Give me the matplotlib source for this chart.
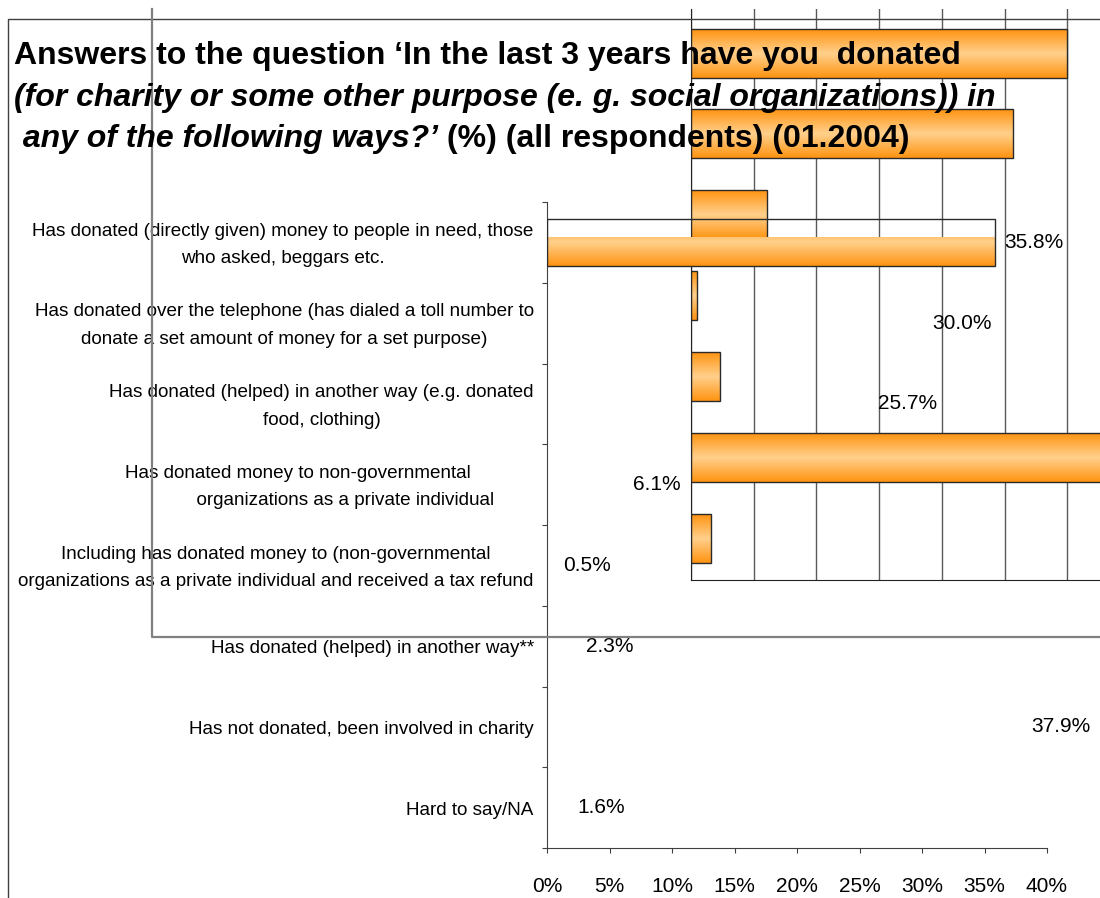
import numpy as np
import matplotlib.pyplot as plt
from matplotlib.colors import LinearSegmentedColormap
from matplotlib.lines import Line2D
from matplotlib.text import Annotation

plt.rcParams["font.family"] = ["Liberation Sans", "DejaVu Sans"]

W, H = 1100, 898

categories = [
    "Has donated (directly given) money to people in need, those\nwho asked, beggars etc.",
    "Has donated over the telephone (has dialed a toll number to\ndonate a set amount of money for a set purpose)",
    "Has donated (helped) in another way (e.g. donated\nfood, clothing)",
    "Has donated money to non-governmental            \n      organizations as a private individual",
    "Including has donated money to (non-governmental\norganizations as a private individual and received a tax refund",
    "Has donated (helped) in another way**",
    "Has not donated, been involved in charity",
    "Hard to say/NA",
]
shares = [35.8, 30.0, 25.7, 6.1, 0.5, 2.3, 37.9, 1.6]
x_ticks = [0, 5, 10, 15, 20, 25, 30, 35, 40]
x_ticklabels = [f"{t}%" for t in x_ticks]

title_1 = "Answers to the question \u2018In the last 3 years have you  donated"
title_2 = "(for charity or some other purpose (e. g. social organizations)) in"
title_3a = " any of the following ways?\u2019"
title_3b = " (%) (all respondents) (01.2004)"

bar_cmap = LinearSegmentedColormap.from_list("cyl", ["#ff9412", "#ffd08c", "#ff9412"])


def px_rect(left, top, right, bottom):
    # pixel box (origin top-left) -> figure fraction rect
    return [left / W, 1 - bottom / H, (right - left) / W, (bottom - top) / H]


def shaded_bar(ax, y, width, height, lo=0.0, hi=1.0):
    # outline + cylinder shading; lo/hi pick the painted slice (0 = top edge)
    rect = ax.barh(y, width, height=height, facecolor="none",
                   edgecolor="#2a2a2a", lw=1, zorder=3)[0]
    top = y - height / 2
    shade = np.linspace(lo, hi, 64)[:, None]
    img = ax.imshow(shade, cmap=bar_cmap, vmin=0, vmax=1, aspect="auto",
                    extent=(0, width, top + hi * height, top + lo * height),
                    origin="upper", interpolation="bilinear", zorder=2)
    img.set_clip_path(rect)


fig = plt.figure(figsize=(W / 100, H / 100), dpi=100)

# shifted copy of the bar block (bars 2..8)
ghost = fig.add_axes(px_rect(691, 9, 691 + 40 * 12.54, 580))
ghost.set_facecolor("none")
for j, v in enumerate(shares[1:]):
    shaded_bar(ghost, j, v, 0.605)
ghost.set_xlim(0, 40)
ghost.set_ylim(6.51, -0.544)
ghost.set_xticks(x_ticks)
ghost.set_yticks([])
ghost.tick_params(axis="x", length=0, labelbottom=False)
ghost.grid(True, axis="x", color="#5a5a5a", lw=1)
ghost.set_axisbelow(True)
for side in ("top", "right"):
    ghost.spines[side].set_visible(False)
for side in ("left", "bottom"):
    ghost.spines[side].set_color("#222222")

# main chart
ax = fig.add_axes(px_rect(547, 202, 1047, 848))
ax.set_facecolor("none")
shaded_bar(ax, 0.5, shares[0], 0.59, lo=0.4, hi=1.0)
for i, v in enumerate(shares):
    ax.annotate(f"{v:.1f}%", xy=(v, i + 0.5), xytext=(7.2, 0),
                textcoords="offset points", ha="left", va="center", fontsize=15)
for i, label in enumerate(categories):
    ax.annotate(label, xy=(0, i + 0.5), xytext=(-9.5, -1.8), textcoords="offset points",
                ha="right", va="center", multialignment="center",
                linespacing=1.8, fontsize=13.6)
ax.set_xlim(0, 40)
ax.set_ylim(8, 0)
ax.set_xticks(x_ticks, x_ticklabels)
ax.set_yticks(np.arange(9))
ax.set_yticklabels([])
ax.tick_params(axis="x", length=3.6, pad=17, labelsize=15, color="#404040")
ax.tick_params(axis="y", length=3.6, color="#404040")
for side in ("top", "right"):
    ax.spines[side].set_visible(False)
for side in ("left", "bottom"):
    ax.spines[side].set_color("#404040")

# stray frames
fig.add_artist(Line2D([8 / W, 8 / W, 1], [0, 1 - 19 / H, 1 - 19 / H],
                      transform=fig.transFigure, color="#404040", lw=1))
fig.add_artist(Line2D([152 / W, 152 / W, 1], [1 - 9 / H, 1 - 637 / H, 1 - 637 / H],
                      transform=fig.transFigure, color="#808080", lw=1.6))

# title
tkw = dict(fontsize=23, weight="bold", va="baseline", zorder=5)
fig.text(14 / W, 1 - 64 / H, title_1, **tkw)
fig.text(14 / W, 1 - 106 / H, title_2, style="italic", **tkw)
t3 = fig.text(14 / W, 1 - 147 / H, title_3a, style="italic", **tkw)
fig.add_artist(Annotation(title_3b, xy=(1, 0), xycoords=t3, ha="left", va="bottom",
                          fontsize=23, weight="bold", zorder=5))

fig.savefig("out.png", dpi=100)
